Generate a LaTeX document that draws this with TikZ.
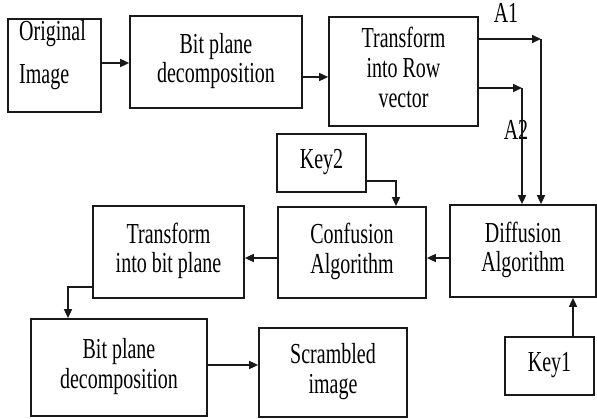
\documentclass[tikz,border=0pt]{standalone}
\usepackage{fontspec}
\setmainfont{Liberation Serif}
\usepackage{graphicx}
\usetikzlibrary{arrows.meta}
\newcommand{\tx}[1]{\scalebox{1}[1.45]{\begin{tabular}{@{}c@{}}#1\end{tabular}}}
\begin{document}
\begin{tikzpicture}[x=1pt,y=-1pt,
  box/.style={draw=black!90,line width=1.7pt,inner sep=0pt,align=center,font=\fontsize{20}{20.5}\selectfont},
  lbl/.style={inner sep=0pt,font=\fontsize{20}{20.5}\selectfont},
  arr/.style={draw=black!90,line width=1.6pt,-{Triangle[length=9pt,width=8pt]}}]
\useasboundingbox (0,0) rectangle (597,419);
% boxes
\node[box,minimum width=93pt,minimum height=93pt] (orig) at (54.5,65.5) {};
\node[lbl,anchor=base west] (t1) at (19,42) {\tx{Original}};
\node[lbl,anchor=base west] (t2) at (19,85) {\tx{Image}};
\node[box,minimum width=172pt,minimum height=92pt] (bp1) at (216,62) {\tx{Bit plane\\decomposition}};
\node[box,minimum width=149pt,minimum height=109pt] (tr) at (403.5,71.5) {\tx{Transform\\into Row\\vector}};
\node[box,minimum width=89pt,minimum height=58pt] (key2) at (321.5,163) {\tx{Key2}};
\node[box,minimum width=148pt,minimum height=91pt] (conf) at (352,252.5) {\tx{Confusion\\Algorithm}};
\node[box,minimum width=146pt,minimum height=92pt] (diff) at (523,251) {\tx{Diffusion\\Algorithm}};
\node[box,minimum width=151pt,minimum height=92pt] (tbp) at (168.5,252) {\tx{Transform\\into bit plane}};
\node[box,minimum width=176pt,minimum height=97pt] (bp2) at (119,367.5) {\tx{Bit plane\\decomposition}};
\node[box,minimum width=148pt,minimum height=89pt] (scr) at (333,372.5) {\tx{Scrambled\\image}};
\node[box,minimum width=89pt,minimum height=58pt] (key1) at (549.5,366) {\tx{Key1}};
% labels
\node[lbl] (A1) at (506,17) {\tx{A1}};
\node[lbl] (A2) at (516,134) {\tx{A2}};
% coordinates
\coordinate (a1) at (541,39);
\coordinate (a2) at (522,88);
\coordinate (k2) at (396,181);
\coordinate (tb) at (68,287);
% connectors
\draw[arr] (orig.east|-0,63) -- (bp1.west|-0,63);
\draw[arr] (bp1.east|-0,77) -- (tr.west|-0,77);
\draw[arr] (tr.east|-a1) -- (a1);
\draw[arr] (a1) -- (a1|-diff.north);
\draw[arr] (tr.east|-a2) -- (a2);
\draw[arr] (a2) -- (a2|-diff.north);
\draw[arr] (key2.east|-k2) -- (k2) -- (k2|-conf.north);
\draw[arr] (diff.west|-0,258) -- (conf.east|-0,258);
\draw[arr] (conf.west|-0,258) -- (tbp.east|-0,258);
\draw[arr] (tbp.west|-tb) -- (tb) -- (tb|-bp2.north);
\draw[arr] (bp2.east|-0,365) -- (scr.west|-0,365);
\draw[arr] (key1.north-|573,0) -- (diff.south-|573,0);
\end{tikzpicture}
\end{document}
